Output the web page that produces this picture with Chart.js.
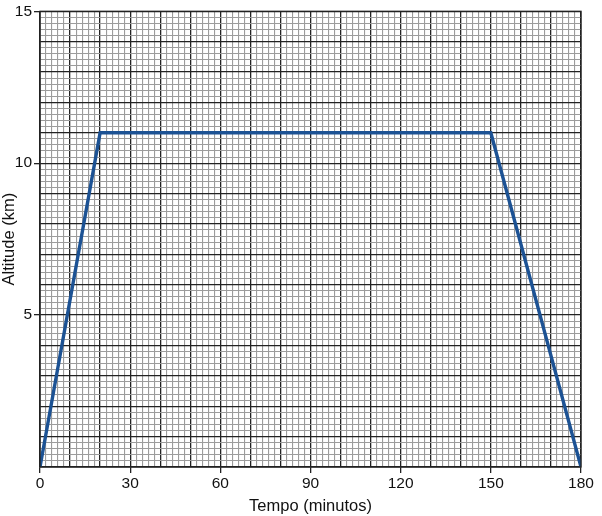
<!DOCTYPE html>
<html>
<head>
<meta charset="utf-8">
<script src="https://cdn.jsdelivr.net/npm/chart.js@4"></script>
<style>
  body { margin: 0; background: #fff; }
  #wrap { width: 602px; height: 516px; }
</style>
</head>
<body>
<div id="wrap"><canvas id="chart"></canvas></div>
<script>
// flight profile: time (min) vs altitude (km)
const tempo = [0, 20, 150, 180];
const altitude = [0, 11, 11, 0];
const xLabels = [0, 30, 60, 90, 120, 150, 180];
const yLabels = [5, 10, 15];

const isWhole = (v, step) => Math.abs(v / step - Math.round(v / step)) < 1e-6;
const font = { family: "'Liberation Sans', Arial, sans-serif", size: 15.5 };
const titleFont = { family: "'Liberation Sans', Arial, sans-serif", size: 16.5 };

const ctx = document.getElementById('chart').getContext('2d');
const chart = new Chart(ctx, {
  type: 'line',
  data: {
    datasets: [{
      data: tempo.map((t, i) => ({ x: t, y: altitude[i] })),
      borderColor: '#1c5294',
      borderWidth: 3.4,
      pointRadius: 0,
      fill: false,
      tension: 0
    }]
  },
  options: {
    responsive: true,
    maintainAspectRatio: false,
    animation: false,
    layout: { padding: { top: 11, right: 21, left: 0, bottom: 0 } },
    plugins: { legend: { display: false }, tooltip: { enabled: false } },
    scales: {
      x: {
        type: 'linear',
        min: 0, max: 180,
        afterFit: s => { s.height = 49; },
        border: { display: true, color: '#222', width: 1.3 },
        ticks: {
          stepSize: 2,
          autoSkip: false,
          maxRotation: 0,
          color: '#111',
          font: font,
          padding: 1,
          callback: v => xLabels.includes(v) ? v : ''
        },
        grid: {
          color: c => isWhole(c.tick.value, 10) ? '#222' : '#9c9c9c',
          lineWidth: c => isWhole(c.tick.value, 10) ? 1.3 : 1.1,
          tickLength: 6,
          tickColor: c => xLabels.includes(c.tick.value) ? '#222' : 'rgba(0,0,0,0)'
        },
        title: { display: true, text: 'Tempo (minutos)', color: '#111', font: titleFont, padding: { top: 0, bottom: 0 } }
      },
      y: {
        min: 0, max: 15,
        afterFit: s => { s.width = 40; },
        border: { display: true, color: '#222', width: 1.3 },
        ticks: {
          stepSize: 0.2,
          autoSkip: false,
          color: '#111',
          font: font,
          padding: 2,
          callback: v => yLabels.some(l => Math.abs(l - v) < 1e-6) ? Math.round(v) : ''
        },
        grid: {
          color: c => isWhole(c.tick.value, 1) ? '#222' : '#9c9c9c',
          lineWidth: c => isWhole(c.tick.value, 1) ? 1.3 : 1.1,
          tickLength: 6,
          tickColor: c => yLabels.some(l => Math.abs(l - c.tick.value) < 1e-6) ? '#222' : 'rgba(0,0,0,0)'
        },
        title: { display: true, text: 'Altitude (km)', color: '#111', font: titleFont, padding: { top: 0, bottom: 2 } }
      }
    }
  },
  plugins: [{
    id: 'frame',
    afterDraw(c) {
      const a = c.chartArea, g = c.ctx;
      g.save();
      g.strokeStyle = '#222';
      g.lineWidth = 1.3;
      g.strokeRect(a.left, a.top, a.right - a.left, a.bottom - a.top);
      g.restore();
    }
  }]
});
</script>
</body>
</html>
